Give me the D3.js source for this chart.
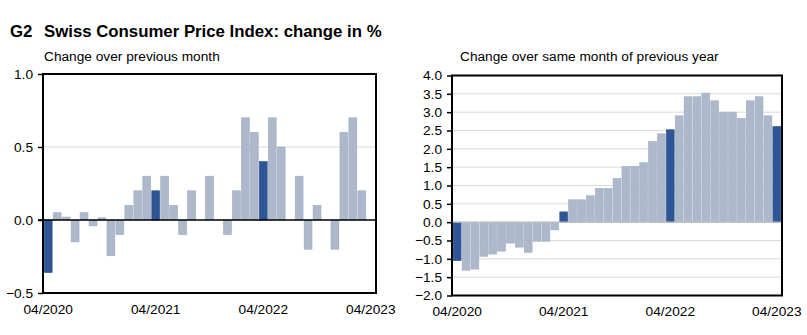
<!DOCTYPE html>
<html><head><meta charset="utf-8">
<script src="https://cdn.jsdelivr.net/npm/d3@7"></script>
<style>
body{margin:0;background:#fff;}
svg{font-family:"Liberation Sans",Arial,sans-serif;}
</style></head>
<body>
<svg id="c" width="807" height="335"></svg>
<script>
const months = ["04/2020","05/2020","06/2020","07/2020","08/2020","09/2020","10/2020","11/2020","12/2020",
"01/2021","02/2021","03/2021","04/2021","05/2021","06/2021","07/2021","08/2021","09/2021","10/2021","11/2021","12/2021",
"01/2022","02/2022","03/2022","04/2022","05/2022","06/2022","07/2022","08/2022","09/2022","10/2022","11/2022","12/2022",
"01/2023","02/2023","03/2023","04/2023"];
const momValues = [-0.36,0.05,0.02,-0.15,0.05,-0.04,0.015,-0.245,-0.1,0.1,0.2,0.3,0.2,0.3,0.1,-0.1,0.2,0,0.3,0,-0.1,0.2,0.7,0.6,0.4,0.7,0.5,0,0.3,-0.2,0.1,0,-0.2,0.6,0.7,0.2,0];
const yoyValues = [-1.05,-1.31,-1.28,-0.93,-0.87,-0.79,-0.57,-0.68,-0.82,-0.52,-0.52,-0.21,0.28,0.61,0.61,0.72,0.92,0.92,1.19,1.52,1.52,1.62,2.2,2.41,2.52,2.9,3.42,3.42,3.52,3.31,3.0,3.0,2.83,3.31,3.42,2.9,2.61];
const xTickLabels = ["04/2020","04/2021","04/2022","04/2023"];
const momTicks = [-0.5,0,0.5,1.0];
const yoyTicks = [-2,-1.5,-1,-0.5,0,0.5,1,1.5,2,2.5,3,3.5,4];

const svg = d3.select("#c");
const DARK = "#2e5596", LIGHT = "#adb8cb", LIGHTSTROKE = "#9eabc2";
const FS = 13.7;

svg.append("text").attr("x",10).attr("y",37).attr("font-size",16.8).attr("font-weight","bold").attr("fill","#000").text("G2");
svg.append("text").attr("x",44).attr("y",37).attr("font-size",16.8).attr("font-weight","bold").attr("fill","#000").text("Swiss Consumer Price Index: change in %");

function panel(opts){
  const {x0,x1,y0,y1,domain,ticks,values,subtitle,subX,zeroColor,labelY} = opts;
  const g = svg.append("g");
  g.append("text").attr("x",subX).attr("y",61).attr("font-size",FS).attr("fill","#000").text(subtitle);
  const x = d3.scaleBand().domain(months).range([x0+1,x1-1]).paddingInner(0.12).paddingOuter(0.03);
  const y = d3.scaleLinear().domain(domain).range([y1,y0]);
  g.selectAll("line.grid").data(ticks.filter(t=>t!==domain[0]&&t!==domain[1]&&t!==0)).enter().append("line")
    .attr("x1",x0).attr("x2",x1).attr("y1",d=>y(d)).attr("y2",d=>y(d)).attr("stroke","#d9d9d9").attr("stroke-width",1);
  g.selectAll("rect.bar").data(values).enter().append("rect")
    .attr("x",(d,i)=>x(months[i])).attr("width",x.bandwidth())
    .attr("y",d=>Math.min(y(d),y(0))).attr("height",d=>Math.abs(y(d)-y(0)))
    .attr("fill",(d,i)=>months[i].startsWith("04/")?DARK:LIGHT)
    .attr("stroke",(d,i)=>months[i].startsWith("04/")?"#2a4f8f":LIGHTSTROKE).attr("stroke-width",0.6);
  g.append("line").attr("x1",zeroColor==="#000"?x0-5:x0).attr("x2",x1).attr("y1",y(0)).attr("y2",y(0))
    .attr("stroke",zeroColor).attr("stroke-width",zeroColor==="#000"?1.5:1.2);
  g.append("rect").attr("x",x0).attr("y",y0).attr("width",x1-x0).attr("height",y1-y0)
    .attr("fill","none").attr("stroke","#000").attr("stroke-width",2);
  const ya = d3.axisLeft(y).tickValues(ticks).tickSize(5).tickPadding(5).tickFormat(d3.format(".1f"));
  const ay = g.append("g").attr("transform",`translate(${x0},0)`).call(ya);
  ay.select(".domain").remove();
  ay.selectAll("line").attr("stroke","#000").attr("stroke-width",1.5);
  ay.selectAll("text").attr("font-size",FS).attr("fill","#000").attr("font-family","Liberation Sans, Arial, sans-serif");
  const xa = d3.axisBottom(x).tickValues(xTickLabels).tickSize(0).tickPadding(labelY);
  const ax = g.append("g").attr("transform",`translate(0,${y1})`).call(xa);
  ax.select(".domain").remove();
  ax.selectAll("text").attr("font-size",FS).attr("fill","#000").attr("font-family","Liberation Sans, Arial, sans-serif");
}

panel({x0:43,x1:376,y0:74,y1:293,domain:[-0.5,1.0],ticks:momTicks,values:momValues,
  subtitle:"Change over previous month",subX:44,zeroColor:"#000",labelY:11});
panel({x0:452,x1:782,y0:75.5,y1:295.5,domain:[-2,4],ticks:yoyTicks,values:yoyValues,
  subtitle:"Change over same month of previous year",subX:460,zeroColor:"#bfbfbf",labelY:11});
</script>
</body></html>
